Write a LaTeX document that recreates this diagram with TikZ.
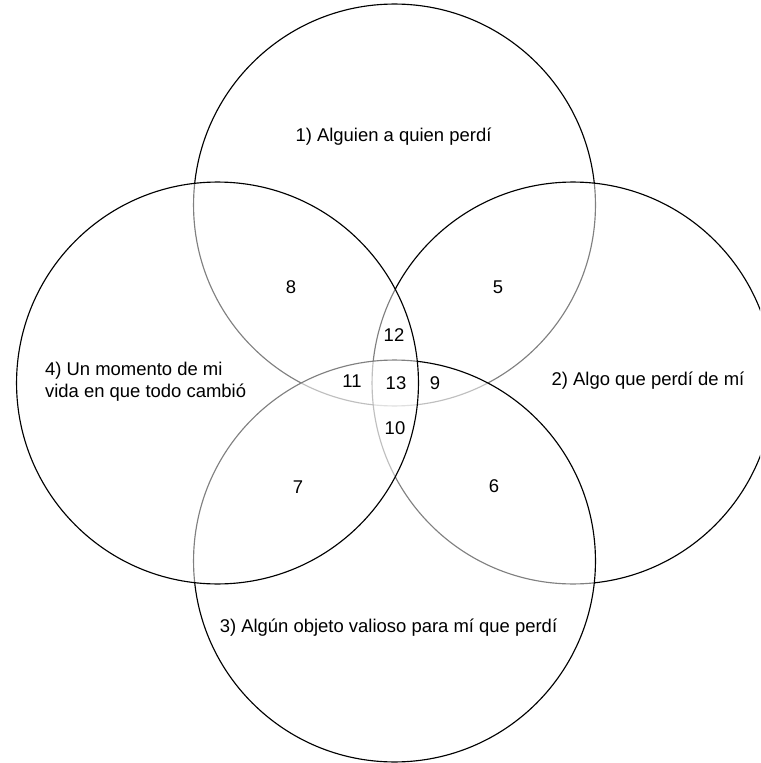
\documentclass[tikz,border=0pt]{standalone}
\usepackage{fontspec}
\setmainfont{Liberation Sans}
\usetikzlibrary{positioning}

\begin{document}
\begin{tikzpicture}[
  x=0.02cm, y=-0.02cm,
  set/.style  ={draw, circle, line width=0.65pt, fill=white, fill opacity=0.5,
                text opacity=1, minimum size=8.04cm, inner sep=0pt, outer sep=0pt},
  title/.style={font=\fontsize{10.5}{12.4}\selectfont, inner sep=1pt},
  zone/.style ={font=\fontsize{10.5}{12.4}\selectfont, inner sep=1pt},
]
\useasboundingbox (0,0) rectangle (760,763);
\clip (0,0) rectangle (760,763);

% ============================ the four sets (bottom-most first) =============
\node[set] (top)   at (394.5,205) {};
\node[set] (right) at (573,383)   {};
\node[set] (low)   at (394.5,561) {};
\node[set] (left)  at (217.5,383) {};

% ============================ set names =====================================
\node[title] (t1) at (393.5,137) {1) Alguien a quien perdí};
\node[title] (t2) at (648,381)   {2) Algo que perdí de mí};
\node[title] (t3) at (388.5,628) {3) Algún objeto valioso para mí que perdí};
\node[title, align=left, anchor=west] (t4) at (43,382)
     {4) Un momento de mi\\vida en que todo cambió};

% ============================ numbered overlaps =============================
\foreach \n/\x/\y in {5/498/287, 6/494/486, 7/298/487, 8/291/287,
                      9/435/383, 10/395/428, 11/352/381, 12/394/335,
                      13/396/383} {
  \node[zone] (z\n) at (\x,\y) {\n};
}

\end{tikzpicture}
\end{document}
